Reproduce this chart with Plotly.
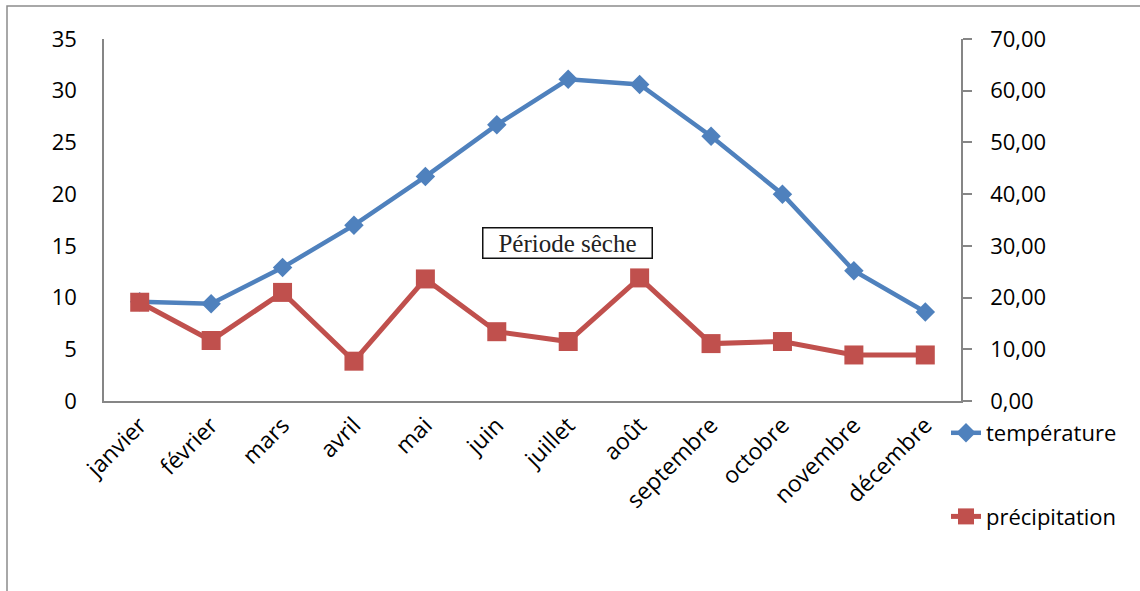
import plotly.graph_objects as go

# Diagramme ombrothermique : température (axe gauche) et précipitation (axe droit, échelle P = 2T)
mois = ["janvier", "février", "mars", "avril", "mai", "juin", "juillet",
        "août", "septembre", "octobre", "novembre", "décembre"]
temperature = [9.6, 9.4, 12.9, 17.0, 21.7, 26.7, 31.1, 30.6, 25.6, 20.0, 12.6, 8.6]
precipitation = [19.1, 11.7, 21.0, 7.7, 23.6, 13.4, 11.5, 23.8, 11.1, 11.5, 8.9, 8.9]

y_ticks_temp = [0, 5, 10, 15, 20, 25, 30, 35]
y_ticks_prec = [0, 10, 20, 30, 40, 50, 60, 70]

BLEU = "#4F81BD"
ROUGE = "#C0504D"
GRIS = "#868686"
POLICE = "Open Sans"

W, H = 1140, 591
L, R, T, B = 104, 179, 39, 190
pw, ph = W - L - R, H - T - B

fig = go.Figure()

fig.add_trace(go.Scatter(
    x=mois, y=temperature, name="température", yaxis="y",
    mode="lines+markers", legendgroup="t",
    line=dict(color=BLEU, width=4.5),
    marker=dict(symbol="diamond", size=15, color=BLEU),
))
fig.add_trace(go.Scatter(
    x=mois, y=precipitation, name="précipitation", yaxis="y2",
    mode="lines+markers", legendgroup="p",
    line=dict(color=ROUGE, width=5),
    marker=dict(symbol="square", size=19, color=ROUGE),
))

fig.update_layout(
    width=W, height=H,
    template="none",
    paper_bgcolor="white", plot_bgcolor="white",
    margin=dict(l=L, r=R, t=T, b=B, autoexpand=False),
    separators=", ",
    font=dict(family=POLICE, size=22, color="#000000"),
    xaxis=dict(
        type="category", range=[-0.5, 11.5], automargin=False,
        showline=True, linecolor=GRIS, linewidth=1.5, showgrid=False,
        zeroline=False, ticks="", tickangle=-45,
        tickfont=dict(family=POLICE, size=23),
    ),
    yaxis=dict(
        range=[0, 35], tickvals=y_ticks_temp, automargin=False,
        showline=True, linecolor=GRIS, linewidth=1.5, showgrid=False,
        zeroline=False, ticks="outside", ticklen=21,
        tickcolor="rgba(0,0,0,0)", tickfont=dict(family=POLICE, size=22),
    ),
    yaxis2=dict(
        range=[0, 70], tickvals=y_ticks_prec, tickformat=".2f",
        overlaying="y", side="right", automargin=False,
        showline=True, linecolor=GRIS, linewidth=1.5, showgrid=False,
        zeroline=False, ticks="outside", ticklen=9, tickwidth=1.5,
        tickcolor=GRIS, ticklabelstandoff=14,
        tickfont=dict(family=POLICE, size=22),
    ),
    legend=dict(
        x=(946 - L) / pw, y=-(412 - T - ph) / ph, xanchor="left", yanchor="top",
        traceorder="grouped", tracegroupgap=52,
        font=dict(family=POLICE, size=22), bgcolor="rgba(0,0,0,0)",
    ),
    showlegend=True,
)

# Cadre extérieur du graphique
fig.add_shape(
    type="rect", xref="paper", yref="paper", layer="below",
    x0=(7 - L) / pw, x1=(W + 10 - L) / pw,
    y0=-(H + 10 - T - ph) / ph, y1=1 + (T - 6) / ph,
    line=dict(color="#8C8C8C", width=1.5), fillcolor="rgba(0,0,0,0)",
)

# Étiquette de la période sèche
fig.add_annotation(
    text="Période sêche", xref="paper", yref="paper",
    x=(567 - L) / pw, y=1 - (243 - T) / ph, xanchor="center", yanchor="middle",
    showarrow=False, width=166, height=27,
    font=dict(family="Liberation Serif", size=25, color="#222222"),
    bgcolor="white", bordercolor="#111111", borderwidth=1.5, borderpad=1,
)

fig.write_html("out.html")
